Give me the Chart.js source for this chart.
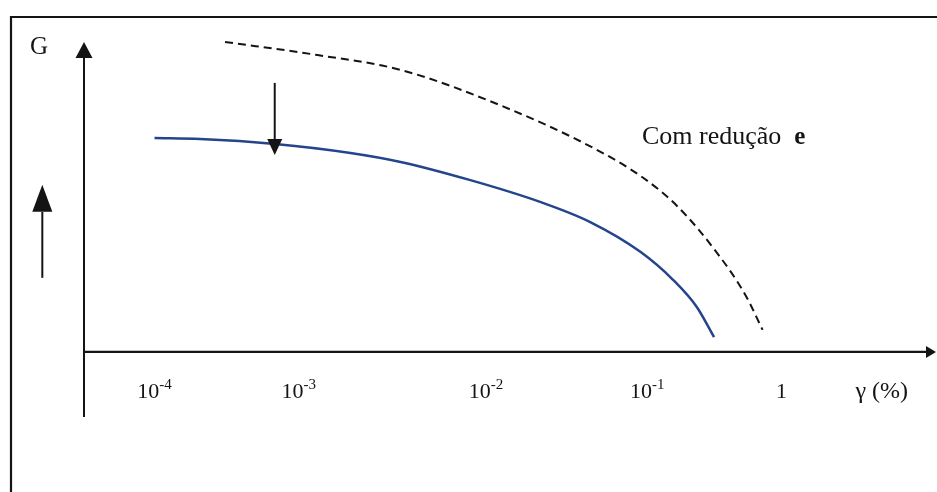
<!DOCTYPE html>
<html>
<head>
<meta charset="utf-8">
<script src="https://cdn.jsdelivr.net/npm/chart.js@4.4.1/dist/chart.umd.min.js"></script>
<style>
  html, body { margin: 0; padding: 0; background: #fff; }
  #wrap { width: 937px; height: 492px; }
</style>
</head>
<body>
<div id="wrap"><canvas id="myChart" width="937" height="492"></canvas></div>
<script>
// x in decades of gamma (log10 of gamma %), as drawn; G in arbitrary units
const tickValues = [-4, -3.08, -1.885, -0.856, 0];
const tickExps = ["-4", "-3", "-2", "-1", ""];
const baseX = [-4.00, -3.71, -3.23, -2.75, -2.43, -1.99, -1.54, -1.22, -0.90, -0.69, -0.54, -0.43];
const baseG = [6.90, 6.87, 6.71, 6.42, 6.13, 5.55, 4.84, 4.19, 3.23, 2.32, 1.45, 0.48];
const redX = [-3.55, -2.96, -2.43, -1.80, -1.20, -0.88, -0.66, -0.41, -0.23, -0.12];
const redG = [10.0, 9.58, 9.10, 7.97, 6.58, 5.61, 4.68, 3.19, 1.84, 0.71];

const serif = '"Liberation Serif", "Times New Roman", serif';
const ink = '#141414';

function toPoints(xs, ys) {
  return xs.map(function (x, i) { return { x: x, y: ys[i] }; });
}

function arrow(ctx, x1, y1, x2, y2, len, w, lw) {
  const a = Math.atan2(y2 - y1, x2 - x1);
  const bx = x2 - len * Math.cos(a), by = y2 - len * Math.sin(a);
  ctx.lineWidth = lw;
  ctx.beginPath();
  ctx.moveTo(x1, y1);
  ctx.lineTo(bx, by);
  ctx.stroke();
  ctx.beginPath();
  ctx.moveTo(x2, y2);
  ctx.lineTo(bx + w / 2 * Math.sin(a), by - w / 2 * Math.cos(a));
  ctx.lineTo(bx - w / 2 * Math.sin(a), by + w / 2 * Math.cos(a));
  ctx.closePath();
  ctx.fill();
}

const drawing = {
  id: 'drawing',
  beforeDatasetsDraw(chart) {
    const ctx = chart.ctx, x = chart.scales.x, y = chart.scales.y;
    ctx.save();
    ctx.strokeStyle = ink;
    ctx.fillStyle = ink;
    // frame (top and left edges of the scanned box)
    ctx.lineWidth = 2.2;
    ctx.beginPath();
    ctx.moveTo(11, 492);
    ctx.lineTo(11, 17);
    ctx.lineTo(937, 17);
    ctx.stroke();
    // G axis
    arrow(ctx, x.left, y.bottom, x.left, y.top, 16, 17, 2);
    // gamma axis
    const y0 = y.getPixelForValue(0);
    arrow(ctx, x.left - 1, y0, x.right + 1, y0, 10, 12, 2.2);
    ctx.restore();
  },
  afterDatasetsDraw(chart) {
    const ctx = chart.ctx, x = chart.scales.x, y = chart.scales.y;
    ctx.save();
    ctx.strokeStyle = ink;
    ctx.fillStyle = ink;
    // arrows
    arrow(ctx, x.getPixelForValue(-3.233), y.getPixelForValue(8.68),
          x.getPixelForValue(-3.233), y.getPixelForValue(6.35), 16, 15, 2);
    arrow(ctx, x.getPixelForValue(-4.716), y.getPixelForValue(2.39),
          x.getPixelForValue(-4.716), y.getPixelForValue(5.39), 27, 20, 2);
    // G
    ctx.font = '25px ' + serif;
    ctx.textBaseline = 'alphabetic';
    ctx.textAlign = 'left';
    ctx.fillText('G', 30, 54);
    // curve label
    const lx = x.getPixelForValue(-0.89), ly = y.getPixelForValue(6.7);
    ctx.font = '26px ' + serif;
    ctx.fillText('Com redução', lx, ly);
    const w = ctx.measureText('Com redução  ').width;
    ctx.font = 'bold 25px ' + serif;
    ctx.fillText('e', lx + w, ly);
    // tick labels
    const by = y.getPixelForValue(-1.48);
    tickValues.forEach(function (v, i) {
      ctx.font = '22px ' + serif;
      const base = tickExps[i] ? '10' : '1';
      const bw = ctx.measureText(base).width;
      ctx.font = '15px ' + serif;
      const ew = tickExps[i] ? ctx.measureText(tickExps[i]).width : 0;
      const sx = x.getPixelForValue(v) - (bw + ew) / 2;
      ctx.font = '22px ' + serif;
      ctx.fillText(base, sx, by);
      if (tickExps[i]) {
        ctx.font = '15px ' + serif;
        ctx.fillText(tickExps[i], sx + bw, by - 9);
      }
    });
    ctx.font = '24px ' + serif;
    ctx.textAlign = 'center';
    ctx.fillText('γ (%)', x.getPixelForValue(0.64), by);
    ctx.restore();
  }
};

const data = {
  type: 'line',
  data: {
    datasets: [{
      data: toPoints(baseX, baseG),
      borderColor: '#24448c',
      borderWidth: 2.5,
      pointRadius: 0,
      cubicInterpolationMode: 'monotone',
      fill: false
    }, {
      data: toPoints(redX, redG),
      borderColor: ink,
      borderWidth: 2,
      borderDash: [8, 5],
      pointRadius: 0,
      cubicInterpolationMode: 'monotone',
      fill: false
    }]
  },
  options: {
    responsive: false,
    animation: false,
    clip: false,
    layout: { padding: { left: 84, top: 42, right: 2, bottom: 75 } },
    plugins: { legend: { display: false }, tooltip: { enabled: false } },
    scales: {
      x: { type: 'linear', min: -4.45, max: 0.98, display: false },
      y: { type: 'linear', min: -2.1, max: 10, display: false }
    }
  },
  plugins: [drawing]
};

window.onload = function () {
  new Chart('myChart', data);
};
</script>
</body>
</html>
